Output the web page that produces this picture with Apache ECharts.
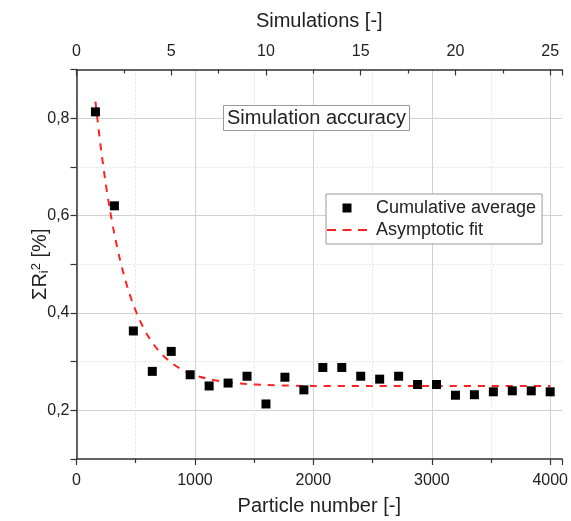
<!DOCTYPE html>
<html>
<head>
<meta charset="utf-8">
<script src="https://cdn.jsdelivr.net/npm/echarts@6/dist/echarts.min.js"></script>
<style>
  html, body { margin: 0; padding: 0; background: #fff; }
  #chart { width: 571px; height: 521px; }
</style>
</head>
<body>
<div id="chart"></div>
<script>
// Cumulative average of the squared residual sum after each simulation
const particleNumbers = [160, 320, 480, 640, 800, 960, 1120, 1280, 1440, 1600,
  1760, 1920, 2080, 2240, 2400, 2560, 2720, 2880, 3040, 3200,
  3360, 3520, 3680, 3840, 4000];
const cumulativeAverage = [0.813, 0.620, 0.363, 0.280, 0.321, 0.273, 0.250, 0.256, 0.270, 0.213,
  0.268, 0.242, 0.288, 0.288, 0.270, 0.264, 0.270, 0.253, 0.253, 0.231,
  0.232, 0.238, 0.240, 0.240, 0.238];

// Asymptotic fit curve, sampled along the particle axis
const fitParticles = [160, 200, 240, 280, 320, 360, 400, 440, 480, 520, 560, 600, 640, 720, 800,
  880, 960, 1040, 1120, 1280, 1440, 1600, 2000, 2500, 3000, 3500, 4000];
const fitValues = [0.834, 0.750, 0.677, 0.615, 0.562, 0.517, 0.478, 0.445, 0.417, 0.393, 0.372, 0.354, 0.339, 0.315, 0.298,
  0.285, 0.275, 0.269, 0.264, 0.257, 0.254, 0.252, 0.250, 0.250, 0.250, 0.250, 0.250];

const yTickLabels = [0.2, 0.4, 0.6, 0.8];
const particlesPerSimulation = 160;

const FONT = '"Liberation Sans", Arial, sans-serif';
const TEXT = '#222';
const AXIS = '#333';
const GRID_MAJOR = '#d2d2d2';
const GRID_MINOR = '#e2e2e2';
const FIT_RED = '#ff2222';

const chart = echarts.init(document.getElementById('chart'), null, { renderer: 'canvas' });

const pairs = (xs, ys) => xs.map((x, i) => [x, ys[i]]);

chart.setOption({
  animation: false,
  backgroundColor: '#fff',
  textStyle: { fontFamily: FONT, color: TEXT },
  title: {
    text: 'Simulation accuracy',
    left: 223,
    top: 105,
    padding: [2, 4, 2, 4],
    borderWidth: 1,
    borderColor: '#999',
    backgroundColor: '#fff',
    textStyle: { fontFamily: FONT, fontSize: 20, fontWeight: 'normal', color: TEXT, lineHeight: 22 }
  },
  legend: {
    orient: 'vertical',
    left: 326,
    top: 194,
    padding: [5, 6, 5, 1],
    itemGap: 4,
    itemWidth: 40,
    itemHeight: 9,
    borderWidth: 1,
    borderColor: '#999',
    backgroundColor: '#fff',
    textStyle: { fontFamily: FONT, fontSize: 18, color: TEXT, padding: [0, 0, 0, 4] },
    data: [
      { name: 'Cumulative average',
        icon: 'path://M0,0h0.05v0.05h-0.05z M15.5,0h9v9h-9z M39.95,8.95h0.05v0.05h-0.05z',
        itemStyle: { color: '#000', opacity: 1 } },
      { name: 'Asymptotic fit',
        icon: 'path://M0,0h0.05v0.05h-0.05z M0,3.5h9v2h-9z M15.5,3.5h9v2h-9z M31,3.5h9v2h-9z M39.95,8.95h0.05v0.05h-0.05z',
        itemStyle: { color: FIT_RED, borderWidth: 0 } }
    ]
  },
  grid: { left: 76.5, right: 8, top: 69.5, bottom: 60.5, containLabel: false },
  xAxis: [
    {
      type: 'value',
      position: 'bottom',
      min: 0,
      max: 4100,
      interval: 1000,
      name: 'Particle number [-]',
      nameLocation: 'middle',
      nameGap: 37,
      nameMoveOverlap: false,
      nameTextStyle: { fontFamily: FONT, fontSize: 20, color: TEXT },
      axisLine: { show: true, onZero: false, lineStyle: { color: AXIS, width: 1.5 } },
      axisTick: { show: true, length: 6, lineStyle: { color: AXIS, width: 1.2 } },
      minorTick: { show: true, splitNumber: 2, length: 4, lineStyle: { color: AXIS, width: 1.2 } },
      axisLabel: {
        fontFamily: FONT, fontSize: 16, color: TEXT, margin: 14, showMaxLabel: false,
        formatter: v => String(v)
      },
      splitLine: { show: true, showMaxLine: false, lineStyle: { color: GRID_MAJOR, width: 1 } },
      minorSplitLine: { show: true, lineStyle: { color: GRID_MINOR, width: 1, type: [2, 2] } }
    },
    {
      type: 'value',
      position: 'top',
      min: 0,
      max: 4100 / particlesPerSimulation,
      interval: 5,
      name: 'Simulations [-]',
      nameLocation: 'middle',
      nameGap: 38,
      nameMoveOverlap: false,
      nameTextStyle: { fontFamily: FONT, fontSize: 20, color: TEXT },
      axisLine: { show: true, onZero: false, lineStyle: { color: AXIS, width: 1.5 } },
      axisTick: { show: true, inside: true, length: 6, lineStyle: { color: AXIS, width: 1.2 } },
      minorTick: { show: true, splitNumber: 2, length: 4, lineStyle: { color: AXIS, width: 1.2 } },
      axisLabel: { fontFamily: FONT, fontSize: 16, color: TEXT, margin: 10, showMaxLabel: false },
      splitLine: { show: false }
    }
  ],
  yAxis: {
    type: 'value',
    position: 'left',
    min: 0.1,
    max: 0.9,
    interval: 0.2,
    name: 'ΣR{sub|i}{sup|2} [%]',
    nameLocation: 'middle',
    nameGap: 26,
    nameMoveOverlap: false,
    nameTextStyle: {
      fontFamily: FONT, fontSize: 20, color: TEXT,
      rich: {
        sub: { fontFamily: FONT, fontSize: 13, color: TEXT, verticalAlign: 'bottom', padding: [8, 0, 0, 0] },
        sup: { fontFamily: FONT, fontSize: 13, color: TEXT, verticalAlign: 'top', padding: [0, 0, 8, 0] }
      }
    },
    axisLine: { show: true, onZero: false, lineStyle: { color: AXIS, width: 1.5 } },
    axisTick: { show: true, length: 6, lineStyle: { color: AXIS, width: 1.2 } },
    minorTick: { show: true, splitNumber: 2, length: 6, lineStyle: { color: AXIS, width: 1.2 } },
    axisLabel: {
      fontFamily: FONT, fontSize: 16, color: TEXT, margin: 7,
      customValues: yTickLabels,
      formatter: v => v.toFixed(1).replace('.', ',')
    },
    splitLine: { show: true, lineStyle: { color: GRID_MINOR, width: 1, type: [2, 2] } },
    minorSplitLine: { show: true, lineStyle: { color: GRID_MAJOR, width: 1 } }
  },
  series: [
    {
      name: 'Cumulative average',
      type: 'scatter',
      xAxisIndex: 0,
      symbol: 'rect',
      symbolSize: 9,
      itemStyle: { color: '#000', opacity: 1 },
      z: 3,
      data: pairs(particleNumbers, cumulativeAverage)
    },
    {
      name: 'Asymptotic fit',
      type: 'line',
      xAxisIndex: 0,
      smooth: 0.3,
      symbol: 'none',
      lineStyle: { color: FIT_RED, width: 2, type: [7, 7] },
      itemStyle: { color: FIT_RED },
      z: 2,
      data: pairs(fitParticles, fitValues)
    }
  ]
});
</script>
</body>
</html>
